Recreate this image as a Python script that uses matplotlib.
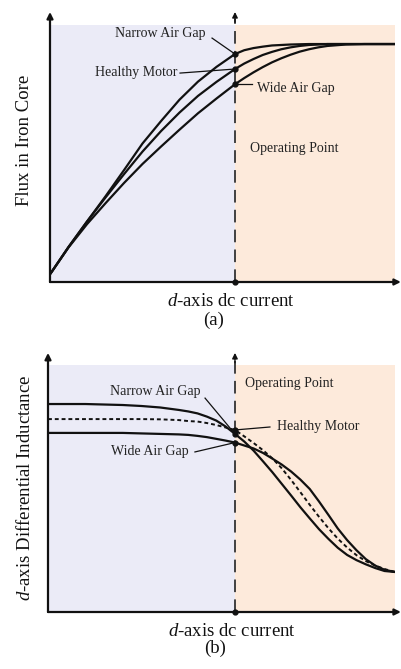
import numpy as np
import matplotlib
matplotlib.use("Agg")
import matplotlib.pyplot as plt

plt.rcParams['font.family'] = ['Liberation Serif', 'DejaVu Serif']
plt.rcParams['mathtext.fontset'] = 'custom'
plt.rcParams['mathtext.rm'] = 'Liberation Serif'
plt.rcParams['mathtext.it'] = 'Liberation Serif:italic'

# d-axis current, normalised so that the operating point sits at 1.0
i_op = 1.0
i_d = [0.005, 0.1, 0.2, 0.3, 0.4, 0.5, 0.6, 0.7, 0.8, 0.9, 1.0,
       1.05, 1.1, 1.15, 1.2, 1.25, 1.3, 1.35, 1.4, 1.45, 1.5, 1.6, 1.7, 1.865]

# (a) flux in iron core (normalised to saturation)
flux_narrow = [0.038, 0.147, 0.254, 0.360, 0.470, 0.582, 0.676, 0.766, 0.842, 0.904, 0.958,
               0.974, 0.983, 0.989, 0.994, 0.996, 0.998, 0.999, 1.0, 1.0, 1.0, 1.0, 1.0, 1.0]
flux_healthy = [0.038, 0.147, 0.254, 0.355, 0.453, 0.548, 0.634, 0.712, 0.782, 0.841, 0.895,
                0.918, 0.937, 0.954, 0.967, 0.978, 0.986, 0.992, 0.996, 0.998, 1.0, 1.0, 1.0, 1.0]
flux_wide = [0.038, 0.145, 0.243, 0.331, 0.416, 0.496, 0.569, 0.640, 0.709, 0.771, 0.831,
             0.857, 0.881, 0.903, 0.923, 0.940, 0.955, 0.968, 0.978, 0.986, 0.992, 0.998, 1.0, 1.0]

# (b) differential inductance
i_d2 = [0.0, 0.1, 0.2, 0.3, 0.4, 0.5, 0.6, 0.7, 0.75, 0.8, 0.85, 0.9, 0.95, 1.0,
        1.05, 1.1, 1.15, 1.2, 1.25, 1.3, 1.35, 1.4, 1.45, 1.5, 1.55, 1.6, 1.65,
        1.7, 1.75, 1.8, 1.856]
L_narrow = [0.842, 0.842, 0.842, 0.840, 0.838, 0.834, 0.828, 0.818, 0.812, 0.804, 0.791,
            0.775, 0.751, 0.721,
            0.690, 0.653, 0.610, 0.566, 0.519, 0.472, 0.424, 0.379, 0.335, 0.296, 0.260,
            0.231, 0.210, 0.193, 0.178, 0.166, 0.162]
L_healthy = [0.781, 0.781, 0.781, 0.781, 0.781, 0.781, 0.780, 0.777, 0.773, 0.771, 0.765,
             0.757, 0.747, 0.737,
             0.711, 0.684, 0.655, 0.622, 0.582, 0.535, 0.485, 0.434, 0.385, 0.339, 0.297,
             0.261, 0.230, 0.206, 0.188, 0.174, 0.162]
L_wide = [0.725, 0.725, 0.725, 0.725, 0.725, 0.723, 0.721, 0.719, 0.717, 0.713, 0.708,
          0.701, 0.694, 0.686,
          0.674, 0.662, 0.644, 0.621, 0.597, 0.569, 0.536, 0.498, 0.447, 0.393, 0.338,
          0.291, 0.250, 0.214, 0.188, 0.171, 0.162]

LAV = '#EBEBF7'
PEACH = '#FDEADB'
INK = '#111111'

W, H = 401, 669
fig = plt.figure(figsize=(W / 100, H / 100), dpi=100)


def px_axes(left, top, right, bottom):
    return fig.add_axes([left / W, 1 - bottom / H, (right - left) / W, (bottom - top) / H])


def frame(ax, xmax, ymax, ytip, xtip):
    ax.set_xlim(0, xmax)
    ax.set_ylim(0, ymax)
    ax.axis('off')
    ax.axvspan(0, i_op, color=LAV, lw=0, zorder=0)
    ax.axvspan(i_op, xmax, color=PEACH, lw=0, zorder=0)
    arrow = dict(arrowstyle='-|>', color=INK, lw=1.6, mutation_scale=9, shrinkA=0, shrinkB=0)
    ax.annotate('', xy=(0, ytip), xytext=(0, 0), xycoords='axes fraction',
                arrowprops=arrow, annotation_clip=False)
    ax.annotate('', xy=(xtip, 0), xytext=(0, 0), xycoords='axes fraction',
                arrowprops=arrow, annotation_clip=False)
    # operating point marker line
    ax.plot([i_op, i_op], [0, ymax * ytip - 0.03], color='#333333', lw=1.3,
            dashes=(7, 4), clip_on=False, zorder=3)
    ax.annotate('', xy=(i_op / xmax, ytip), xytext=(i_op / xmax, ytip - 0.04),
                xycoords='axes fraction', annotation_clip=False,
                arrowprops=dict(arrowstyle='-|>', color=INK, lw=1.0, mutation_scale=8,
                                shrinkA=0, shrinkB=0))
    ax.plot([i_op], [0], 'o', color=INK, ms=3.5, clip_on=False, zorder=5)


def curve_at(xs, ys, x):
    return ys[xs.index(x)]


# ---- (a) flux ----
ax1 = px_axes(50, 25, 395, 282)
frame(ax1, 1.865, 1.080, 1.0506, 1.017)
for ys in (flux_narrow, flux_healthy, flux_wide):
    ax1.plot(i_d, ys, color=INK, lw=1.6, zorder=4, solid_joinstyle='round')
    ax1.plot([i_op], [curve_at(i_d, ys, i_op)], 'o', color=INK, ms=3.5, zorder=5)

fn = curve_at(i_d, flux_narrow, i_op)
fh = curve_at(i_d, flux_healthy, i_op)
fw = curve_at(i_d, flux_wide, i_op)
tkw = dict(fontsize=10, color='#222222')
ax1.text(0.595, 1.046, 'Narrow Air Gap', ha='center', va='center', **tkw)
ax1.plot([0.876, i_op], [1.025, fn], color=INK, lw=0.9, zorder=4)
ax1.text(0.465, 0.882, 'Healthy Motor', ha='center', va='center', **tkw)
ax1.plot([0.703, i_op], [0.878, fh], color=INK, lw=0.9, zorder=4)
ax1.text(1.119, 0.815, 'Wide Air Gap', ha='left', va='center', **tkw)
ax1.plot([i_op, 1.092], [fw, fw], color=INK, lw=0.9, zorder=4)
ax1.text(1.081, 0.563, 'Operating Point', ha='left', va='center', **tkw)

# ---- (b) differential inductance ----
ax2 = px_axes(48, 365, 395, 612)
frame(ax2, 1.856, 1.0, 1.049, 1.017)
ax2.plot(i_d2, L_narrow, color=INK, lw=1.6, zorder=4, solid_joinstyle='round')
ax2.plot(i_d2, L_wide, color=INK, lw=1.6, zorder=4, solid_joinstyle='round')
ax2.plot(i_d2, L_healthy, color=INK, lw=1.4, dashes=(2, 1.5), zorder=4)
for ys in (L_narrow, L_healthy, L_wide):
    ax2.plot([i_op], [curve_at(i_d2, ys, i_op)], 'o', color=INK, ms=3.5, zorder=5)

ln = curve_at(i_d2, L_narrow, i_op)
lh = curve_at(i_d2, L_healthy, i_op)
lw_ = curve_at(i_d2, L_wide, i_op)
ax2.text(1.053, 0.927, 'Operating Point', ha='left', va='center', **tkw)
ax2.text(0.572, 0.891, 'Narrow Air Gap', ha='center', va='center', **tkw)
ax2.plot([0.840, i_op], [0.866, ln], color=INK, lw=0.9, zorder=4)
ax2.text(1.225, 0.749, 'Healthy Motor', ha='left', va='center', **tkw)
ax2.plot([1.187, i_op], [0.749, lh], color=INK, lw=0.9, zorder=4)
ax2.text(0.545, 0.648, 'Wide Air Gap', ha='center', va='center', **tkw)
ax2.plot([0.786, i_op], [0.648, lw_], color=INK, lw=0.9, zorder=4)

# axis titles and captions
lkw = dict(fontsize=13.5, color='#111111', ha='center', va='center')
fig.text(25 / W, 1 - 140.5 / H, 'Flux in Iron Core', rotation=90, **lkw)
fig.text(231 / W, 1 - 302 / H, '$d$-axis dc current', **lkw)
fig.text(214 / W, 1 - 320 / H, '(a)', **lkw)
fig.text(25 / W, 1 - 487.5 / H, '$d$-axis Differential Inductance', rotation=90, **lkw)
fig.text(232 / W, 1 - 631 / H, '$d$-axis dc current', **lkw)
fig.text(215 / W, 1 - 648.5 / H, '(b)', **lkw)

fig.savefig('out.png', dpi=100, facecolor='white')
